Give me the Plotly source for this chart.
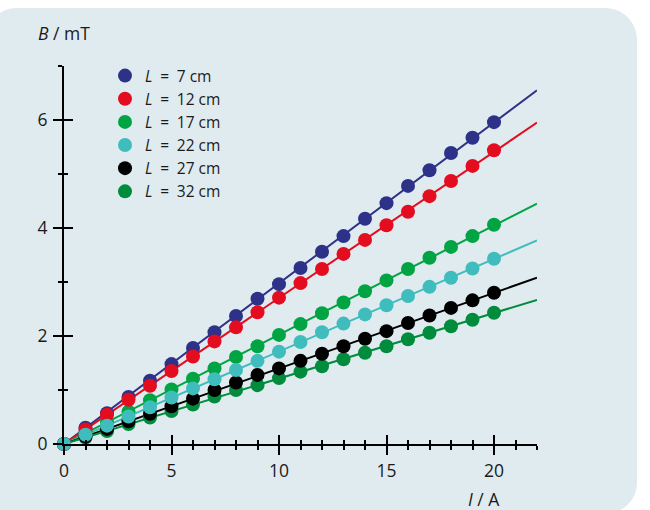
import numpy as np
import plotly.graph_objects as go

# ---------------- data ----------------
current_A = list(range(0, 21))
series_labels = ["7", "12", "17", "22", "27", "32"]
B_L7 = [0, 0.30, 0.57, 0.87, 1.17, 1.48, 1.78, 2.07, 2.37, 2.69, 2.96, 3.26, 3.56, 3.85, 4.17, 4.46, 4.78, 5.07, 5.39, 5.67, 5.96]
B_L12 = [0, 0.27, 0.54, 0.82, 1.08, 1.35, 1.62, 1.90, 2.16, 2.44, 2.71, 2.98, 3.24, 3.52, 3.78, 4.05, 4.30, 4.59, 4.87, 5.15, 5.44]
B_L17 = [0, 0.20, 0.41, 0.60, 0.81, 1.01, 1.21, 1.40, 1.61, 1.81, 2.02, 2.22, 2.42, 2.62, 2.83, 3.03, 3.24, 3.45, 3.65, 3.85, 4.06]
B_L22 = [0, 0.17, 0.34, 0.51, 0.68, 0.86, 1.03, 1.20, 1.37, 1.54, 1.71, 1.89, 2.07, 2.23, 2.40, 2.57, 2.74, 2.91, 3.08, 3.25, 3.43]
B_L27 = [0, 0.14, 0.28, 0.42, 0.56, 0.70, 0.84, 1.00, 1.14, 1.28, 1.40, 1.54, 1.67, 1.81, 1.95, 2.09, 2.24, 2.38, 2.52, 2.66, 2.80]
B_L32 = [0, 0.12, 0.24, 0.37, 0.49, 0.61, 0.73, 0.88, 1.00, 1.09, 1.22, 1.34, 1.44, 1.57, 1.69, 1.81, 1.94, 2.06, 2.18, 2.30, 2.43]
fit_range_A = [0, 22]

series_values = [B_L7, B_L12, B_L17, B_L22, B_L27, B_L32]
colors = ["#2e3188", "#e30d1f", "#00a443", "#3fbdbd", "#000000", "#008c3c"]

# ---------------- layout geometry ----------------
W, H = 650, 510
ML, MR, MT, MB = 64, 113, 66, 66
PW, PH = W - ML - MR, H - MT - MB


def px(xp):
    return (xp - ML) / PW


def py(yp):
    return (H - MB - yp) / PH


fig = go.Figure()

x_arr = np.array(current_A, dtype=float)
# fit lines (through origin)
for vals, col in zip(series_values, colors):
    v = np.array(vals)
    k = float((x_arr * v).sum() / (x_arr * x_arr).sum())
    xs = np.array(fit_range_A, dtype=float)
    fig.add_trace(go.Scatter(x=xs, y=k * xs, mode="lines",
                             line=dict(color=col, width=2),
                             showlegend=False, hoverinfo="skip", cliponaxis=False))

# markers (drawing order chosen so overlap looks like the reference)
draw_order = [5, 4, 2, 0, 1, 3]
for i in draw_order:
    fig.add_trace(go.Scatter(
        x=current_A, y=series_values[i], mode="markers",
        marker=dict(color=colors[i], size=14, line=dict(width=0)),
        name=f"<i>L</i>\u2002=\u2002{series_labels[i]} cm", legendrank=i + 1,
        cliponaxis=False))

# dummy trace for overlay axes
fig.add_trace(go.Scatter(x=[None], y=[None], xaxis="x2", yaxis="y2",
                         showlegend=False, hoverinfo="skip"))

font_family = "Open Sans, Noto Sans, sans-serif"
text_color = "#1a1a1a"
tick_font = dict(family=font_family, size=17.5, color=text_color)

common_x = dict(range=[0, 22], dtick=5, tick0=0, showgrid=False, zeroline=False,
                ticklen=9, tickwidth=2, tickcolor="black",
                minor=dict(dtick=1, tick0=0, ticklen=4, tickwidth=1.6, tickcolor="black", showgrid=False))
common_y = dict(range=[0, 7], dtick=2, tick0=0, showgrid=False, zeroline=False,
                ticklen=9, tickwidth=2, tickcolor="black",
                minor=dict(dtick=1, tick0=0, ticklen=4, tickwidth=1.6, tickcolor="black", showgrid=False))

fig.update_layout(
    width=W, height=H,
    margin=dict(l=ML, r=MR, t=MT, b=MB, pad=0),
    paper_bgcolor="white",
    plot_bgcolor="rgba(0,0,0,0)",
    font=dict(family=font_family, size=16, color=text_color),
    xaxis=dict(**common_x, ticks="outside", minor_ticks="outside", showline=True,
               linecolor="black", linewidth=2, tickfont=tick_font, ticklabelstandoff=1),
    yaxis=dict(**common_y, ticks="outside", minor_ticks="outside", showline=True,
               linecolor="black", linewidth=2, tickfont=tick_font, ticklabelstandoff=2),
    xaxis2=dict(**common_x, ticks="inside", minor_ticks="inside", overlaying="x",
                showline=False, showticklabels=False, anchor="y2"),
    yaxis2=dict(**common_y, ticks="inside", minor_ticks="inside", overlaying="y",
                showline=False, showticklabels=False, anchor="x2"),
    legend=dict(x=px(105), y=py(59), xanchor="left", yanchor="top",
                bgcolor="rgba(0,0,0,0)", font=dict(family=font_family, size=15.5, color=text_color),
                itemwidth=30, tracegroupgap=0),
    showlegend=True,
)

# rounded background panel
L_, T_, R_, B_ = -15, 8, 637, 513
rt, rb = 32, 30
c = 0.5523
path = (
    f"M {px(L_)} {py(T_ + rt)} "
    f"C {px(L_)} {py(T_ + rt - c * rt)} {px(L_ + rt - c * rt)} {py(T_)} {px(L_ + rt)} {py(T_)} "
    f"L {px(R_ - rt)} {py(T_)} "
    f"C {px(R_ - rt + c * rt)} {py(T_)} {px(R_)} {py(T_ + rt - c * rt)} {px(R_)} {py(T_ + rt)} "
    f"L {px(R_)} {py(B_ - rb)} "
    f"C {px(R_)} {py(B_ - rb + c * rb)} {px(R_ - rb + c * rb)} {py(B_)} {px(R_ - rb)} {py(B_)} "
    f"L {px(L_)} {py(B_)} Z"
)
fig.add_shape(type="path", path=path, xref="paper", yref="paper",
              fillcolor="#e0ebf0", line=dict(width=0), layer="below")

fig.add_annotation(text="<i>B</i> / mT", xref="paper", yref="paper",
                   x=px(36), y=py(33), xanchor="left", yanchor="middle",
                   showarrow=False, font=dict(family=font_family, size=17.5, color=text_color))
fig.add_annotation(text="<i>I</i> / A", xref="paper", yref="paper",
                   x=px(484), y=py(499), xanchor="center", yanchor="middle",
                   showarrow=False, font=dict(family=font_family, size=17.5, color=text_color))

fig.write_html(
    "out.html",
    config={"displayModeBar": False},
    post_script="document.body.style.margin='0';document.body.style.overflow='hidden';",
)
